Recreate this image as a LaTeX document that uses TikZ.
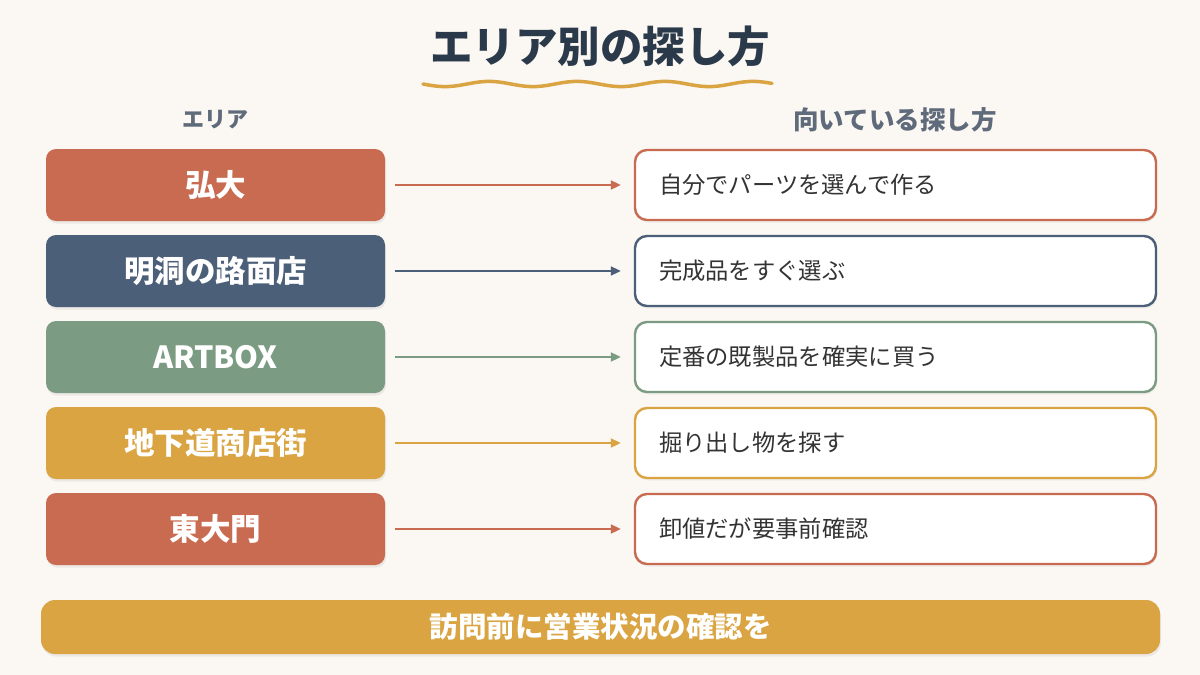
\documentclass[tikz,border=0pt]{standalone}
\usepackage{fontspec}
\setmainfont{Noto Sans CJK JP}
\usetikzlibrary{arrows.meta,shadows}
\definecolor{bg}{HTML}{FBF7F3}
\definecolor{terra}{HTML}{C86B51}
\definecolor{slate}{HTML}{4B5F78}
\definecolor{sage}{HTML}{7B9B82}
\definecolor{gold}{HTML}{D9A441}
\definecolor{titlec}{HTML}{2B3A4A}
\definecolor{headc}{HTML}{5F6B7A}
\definecolor{textc}{HTML}{333333}
\tikzset{
  area/.style={fill=#1, rounded corners=10pt, minimum width=339pt, minimum height=72pt,
    inner sep=0pt, text=white, font=\fontsize{30.5}{34}\selectfont\bfseries,
    drop shadow={opacity=0.12, shadow xshift=1pt, shadow yshift=-2.5pt}},
  howto/.style={draw=#1, line width=2.4pt, fill=white, rounded corners=12pt,
    minimum height=70pt, text width=473pt, inner xsep=24pt, inner ysep=0pt, align=left,
    text=textc, font=\fontsize{23.3}{28}\selectfont,
    drop shadow={opacity=0.08, shadow xshift=1pt, shadow yshift=-2.5pt}},
  link/.style={draw=#1, line width=2pt, -{Triangle[length=10pt,width=9pt]}},
  header/.style={text=headc, font=\fontsize{#1}{28}\selectfont\bfseries}
}
\begin{document}
\begin{tikzpicture}[x=1pt,y=-1pt]
\fill[bg] (0,0) rectangle (1200,675);
\useasboundingbox (0,0) rectangle (1200,675);
\node[text=titlec, font=\fontsize{42.5}{48}\selectfont\bfseries] (title) at (600,46) {エリア別の探し方};
\draw[gold, line width=3.5pt, line cap=round, domain=0:349, samples=120]
  plot ({423+\x}, {84+2.6*sin(\x*4.0909)});
\node[header=22] (h1) at (215,120) {エリア};
\node[header=25.5] (h2) at (895,120) {向いている探し方};
\foreach \i/\y/\c/\a/\b in {
  1/185/terra/弘大/自分でパーツを選んで作る,
  2/271/slate/明洞の路面店/完成品をすぐ選ぶ,
  3/357/sage/ARTBOX/定番の既製品を確実に買う,
  4/443/gold/地下道商店街/掘り出し物を探す,
  5/529/terra/東大門/卸値だが要事前確認}{
  \node[area=\c] (L\i) at (215.5,\y) {\a};
  \node[howto=\c] (R\i) at (895.5,\y) {\b};
  \draw[link=\c] ([xshift=10pt]L\i.east) -- ([xshift=-13pt]R\i.west);
}
\node[fill=gold, rounded corners=14pt, minimum width=1119pt, minimum height=54pt, inner sep=0pt,
  text=white, font=\fontsize{28.5}{32}\selectfont\bfseries,
  drop shadow={opacity=0.12, shadow xshift=1pt, shadow yshift=-2.5pt}] (note) at (600.5,627) {訪問前に営業状況の確認を};
\end{tikzpicture}
\end{document}
